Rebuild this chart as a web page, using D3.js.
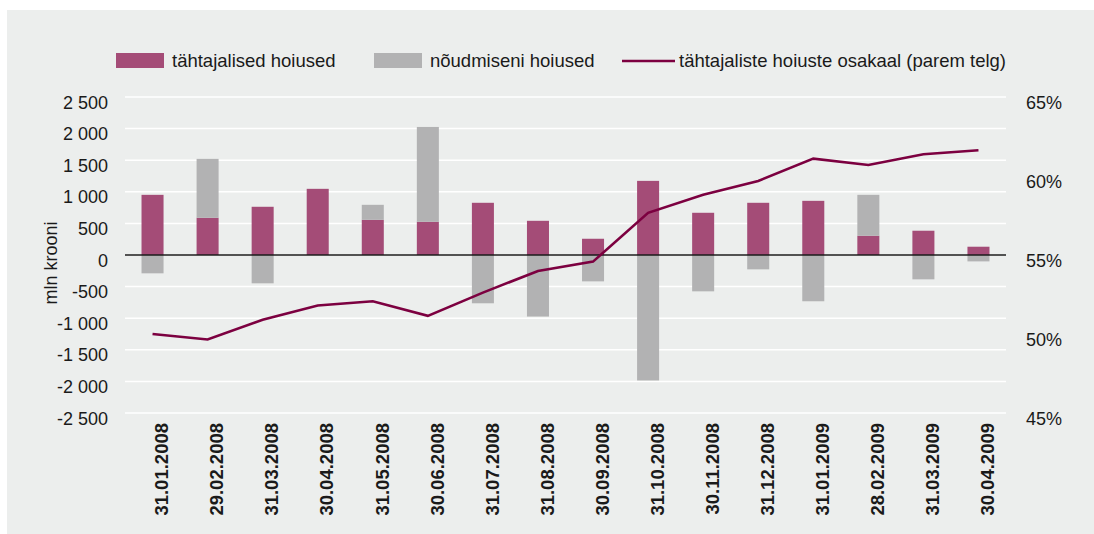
<!DOCTYPE html>
<html>
<head>
<meta charset="utf-8">
<script src="https://cdn.jsdelivr.net/npm/d3@7"></script>
<style>
  html, body { margin: 0; padding: 0; background: #fff; }
  svg { display: block; font-family: "Liberation Sans", Arial, sans-serif; }
  .tick text { font-size: 18px; fill: #1a1a1a; }
</style>
</head>
<body>
<div id="chart"></div>
<script>
// dates (month ends)
const dates = ["31.01.2008","29.02.2008","31.03.2008","30.04.2008","31.05.2008","30.06.2008",
  "31.07.2008","31.08.2008","30.09.2008","31.10.2008","30.11.2008","31.12.2008",
  "31.01.2009","28.02.2009","31.03.2009","30.04.2009"];
// change in term deposits, mln kroons
const termDep = [952, 589, 763, 1047, 557, 526, 826, 541, 257, 1173, 668, 826, 857, 305, 384, 131];
// change in demand deposits, mln kroons
const demandDep = [-290, 932, -448, 0, 237, 1500, -764, -974, -417, -1985, -575, -227, -732, 647, -385, -101];
// share of term deposits, % (right axis)
const termShare = [50.0, 49.65, 50.9, 51.8, 52.07, 51.15, 52.62, 53.99, 54.58, 57.67, 58.81, 59.69, 61.1, 60.7, 61.38, 61.63];
const leftTicks = [-2500, -2000, -1500, -1000, -500, 0, 500, 1000, 1500, 2000, 2500];
const rightTicks = [45, 50, 55, 60, 65];

const W = 1094, H = 534;
const m = { t: 97, r: 88, b: 121, l: 125 };
const C = { term: "#a44c77", demand: "#b2b2b3", line: "#7c0040", bg: "#eceeed" };

const svg = d3.select("#chart").append("svg").attr("width", W).attr("height", H);
svg.append("rect").attr("x", 7).attr("y", 10).attr("width", W - 7).attr("height", H - 10).attr("fill", C.bg);

const x = d3.scaleBand().domain(dates).range([m.l, W - m.r]).paddingInner(0.6).paddingOuter(0.3);
const yL = d3.scaleLinear().domain([-2500, 2500]).range([H - m.b, m.t]);
const yR = d3.scaleLinear().domain([45, 65]).range([H - m.b, m.t]);

// grid
svg.append("g").selectAll("line").data(leftTicks).join("line")
  .attr("x1", m.l).attr("x2", W - m.r)
  .attr("y1", d => yL(d)).attr("y2", d => yL(d))
  .attr("stroke", "#fff").attr("stroke-width", 1.5);

// "2 500", "-1 000" (plain hyphen, space thousands)
const fmtL = d => (d < 0 ? "-" : "") + d3.format(",")(Math.abs(d)).replace(/,/g, " ");

const gl = svg.append("g").attr("transform", `translate(${m.l},0)`)
  .call(d3.axisLeft(yL).tickValues(leftTicks).tickSize(0).tickPadding(17).tickFormat(fmtL));
gl.select(".domain").remove();
gl.selectAll("text").attr("dy", "0.62em");

const gr = svg.append("g").attr("transform", `translate(${W - m.r},0)`)
  .call(d3.axisRight(yR).tickValues(rightTicks).tickSize(0).tickPadding(20).tickFormat(d => d + "%"));
gr.select(".domain").remove();
gr.selectAll("text").attr("dy", "0.62em");

const gx = svg.append("g").attr("transform", `translate(0,${H - m.b})`)
  .call(d3.axisBottom(x).tickSize(0));
gx.select(".domain").remove();
gx.selectAll("text")
  .attr("transform", "rotate(-90)")
  .attr("text-anchor", "end")
  .attr("x", -10).attr("y", 0).attr("dy", "0.85em").attr("dx", 0)
  .style("font-size", "18.5px")
  .style("font-weight", "bold");

// stacked bars (positive values stack upward, negative downward)
const bars = svg.append("g");
dates.forEach((d, i) => {
  let pos = 0, neg = 0;
  [[termDep[i], C.term], [demandDep[i], C.demand]].forEach(([v, col]) => {
    if (!v) return;
    let y0, y1;
    if (v >= 0) { y0 = pos; y1 = pos + v; pos = y1; }
    else { y0 = neg; y1 = neg + v; neg = y1; }
    bars.append("rect")
      .attr("x", x(d)).attr("width", x.bandwidth())
      .attr("y", yL(Math.max(y0, y1)))
      .attr("height", Math.abs(yL(y0) - yL(y1)))
      .attr("fill", col);
  });
});

// zero line
svg.append("line").attr("x1", m.l).attr("x2", W - m.r)
  .attr("y1", yL(0)).attr("y2", yL(0))
  .attr("stroke", "#1a1a1a").attr("stroke-width", 1.5);

// share line
svg.append("path").datum(termShare)
  .attr("fill", "none").attr("stroke", C.line).attr("stroke-width", 2.6)
  .attr("d", d3.line().x((d, i) => x(dates[i]) + x.bandwidth() / 2).y(d => yR(d)));

// y title
svg.append("text").attr("transform", "translate(57,263) rotate(-90)")
  .attr("text-anchor", "middle").attr("font-size", 18).attr("fill", "#1a1a1a").text("mln krooni");

// legend
const lg = svg.append("g").attr("font-size", 18.5).attr("fill", "#1a1a1a");
lg.append("rect").attr("x", 116).attr("y", 53).attr("width", 48).attr("height", 15).attr("fill", C.term);
lg.append("text").attr("x", 172).attr("y", 67).text("tähtajalised hoiused");
lg.append("rect").attr("x", 374).attr("y", 53).attr("width", 48).attr("height", 15).attr("fill", C.demand);
lg.append("text").attr("x", 430).attr("y", 67).text("nõudmiseni hoiused");
lg.append("line").attr("x1", 622).attr("x2", 675).attr("y1", 61).attr("y2", 61)
  .attr("stroke", C.line).attr("stroke-width", 2.6);
lg.append("text").attr("x", 679).attr("y", 67).text("tähtajaliste hoiuste osakaal (parem telg)");
</script>
</body>
</html>
